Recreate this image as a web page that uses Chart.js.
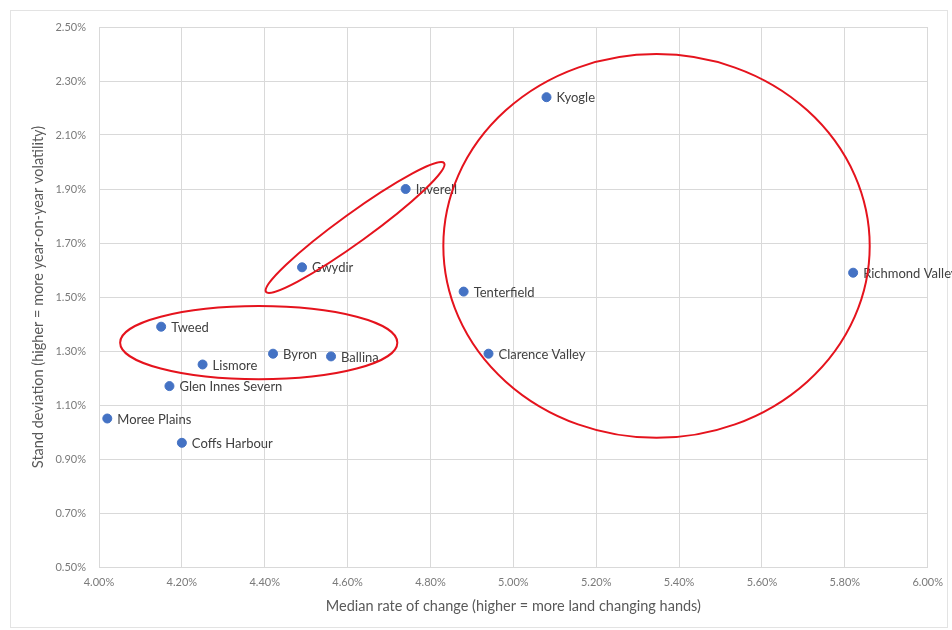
<!DOCTYPE html>
<html>
<head>
<meta charset="utf-8">
<script src="https://cdn.jsdelivr.net/npm/chart.js@4.4.0/dist/chart.umd.min.js"></script>
<style>
  html, body { margin: 0; padding: 0; background: #fff; }
  #wrap { width: 952px; height: 630px; }
</style>
</head>
<body>
<div id="wrap"><canvas id="grafico" width="952" height="630"></canvas></div>
<script>
// dados
const regions = ['Tweed', 'Byron', 'Ballina', 'Lismore', 'Glen Innes Severn', 'Moree Plains',
  'Coffs Harbour', 'Gwydir', 'Inverell', 'Kyogle', 'Tenterfield', 'Clarence Valley', 'Richmond Valley'];
const medianChange = [4.15, 4.42, 4.56, 4.25, 4.17, 4.02, 4.20, 4.49, 4.74, 5.08, 4.88, 4.94, 5.82];
const stdDeviation = [1.39, 1.29, 1.28, 1.25, 1.17, 1.05, 0.96, 1.61, 1.90, 2.24, 1.52, 1.29, 1.59];
const xTicks = [4.0, 4.2, 4.4, 4.6, 4.8, 5.0, 5.2, 5.4, 5.6, 5.8, 6.0];
const yTicks = [0.5, 0.7, 0.9, 1.1, 1.3, 1.5, 1.7, 1.9, 2.1, 2.3, 2.5];

// elipses vermelhas: extremos do eixo maior (em valores) + razão eixo menor/maior
const circles = [
  { from: [4.051, 1.331], to: [4.720, 1.331], ratio: 0.264 },
  { from: [4.403, 1.519], to: [4.833, 1.996], ratio: 0.132 },
  { from: [4.831, 1.689], to: [5.860, 1.689], ratio: 0.90 }
];

const FONT = 'Lato, "Open Sans", sans-serif';

// moldura externa + fundo
const frame = {
  id: 'frame',
  beforeDraw(chart) {
    const c = chart.ctx;
    c.save();
    c.fillStyle = '#fff';
    c.fillRect(0, 0, chart.width, chart.height);
    c.strokeStyle = '#e3e3e3';
    c.lineWidth = 1;
    c.strokeRect(10.5, 10.5, 937, 617);
    c.restore();
  }
};

// rótulos ao lado dos pontos
const pointLabels = {
  id: 'pointLabels',
  afterDatasetsDraw(chart) {
    const c = chart.ctx;
    const meta = chart.getDatasetMeta(0);
    c.save();
    c.font = '13px ' + FONT;
    c.fillStyle = '#404040';
    c.textBaseline = 'middle';
    meta.data.forEach((pt, i) => c.fillText(regions[i], pt.x + 10, pt.y + 1));
    c.restore();
  }
};

// elipses desenhadas à mão no original
const ellipses = {
  id: 'ellipses',
  afterDraw(chart) {
    const c = chart.ctx;
    const xs = chart.scales.x, ys = chart.scales.y;
    c.save();
    c.strokeStyle = '#e5131d';
    c.lineWidth = 2;
    circles.forEach(e => {
      const x1 = xs.getPixelForValue(e.from[0]), y1 = ys.getPixelForValue(e.from[1]);
      const x2 = xs.getPixelForValue(e.to[0]), y2 = ys.getPixelForValue(e.to[1]);
      const a = Math.hypot(x2 - x1, y2 - y1) / 2;
      c.beginPath();
      c.ellipse((x1 + x2) / 2, (y1 + y2) / 2, a, a * e.ratio, Math.atan2(y2 - y1, x2 - x1), 0, Math.PI * 2);
      c.stroke();
    });
    c.restore();
  }
};

const ctx = document.getElementById('grafico');
new Chart(ctx, {
  type: 'scatter',
  data: {
    datasets: [{
      data: medianChange.map((v, i) => ({ x: v, y: stdDeviation[i] })),
      backgroundColor: '#4472c4',
      borderColor: '#4472c4',
      pointRadius: 4.5,
      pointHoverRadius: 4.5
    }]
  },
  options: {
    responsive: false,
    animation: false,
    devicePixelRatio: 1,
    layout: { padding: { left: 10, right: 24, top: 27, bottom: 0 } },
    plugins: {
      legend: { display: false },
      tooltip: { enabled: false }
    },
    scales: {
      x: {
        type: 'linear',
        min: 4.0,
        max: 6.0,
        afterBuildTicks: s => { s.ticks = xTicks.map(v => ({ value: v })); },
        afterFit: s => { s.height = 63; },
        grid: { color: '#d9d9d9', drawTicks: false },
        border: { color: '#d9d9d9' },
        ticks: {
          padding: 9,
          color: '#7a7a7a',
          font: { family: FONT, size: 11 },
          maxRotation: 0,
          autoSkip: false,
          callback: v => v.toFixed(2) + '%'
        },
        title: {
          display: true,
          text: 'Median rate of change (higher = more land changing hands)',
          color: '#595959',
          font: { family: FONT, size: 14.5 },
          padding: { top: 0, bottom: 15 }
        }
      },
      y: {
        type: 'linear',
        min: 0.5,
        max: 2.5,
        afterBuildTicks: s => { s.ticks = yTicks.map(v => ({ value: v })); },
        afterFit: s => { s.width = 89; },
        grid: { color: '#d9d9d9', drawTicks: false },
        border: { color: '#d9d9d9' },
        ticks: {
          padding: 13,
          color: '#7a7a7a',
          font: { family: FONT, size: 11 },
          autoSkip: false,
          callback: v => v.toFixed(2) + '%'
        },
        title: {
          display: true,
          text: 'Stand deviation (higher = more year-on-year volatility)',
          color: '#595959',
          font: { family: FONT, size: 14.5 },
          padding: { top: 20, bottom: 0 }
        }
      }
    }
  },
  plugins: [frame, pointLabels, ellipses]
});
</script>
</body>
</html>
